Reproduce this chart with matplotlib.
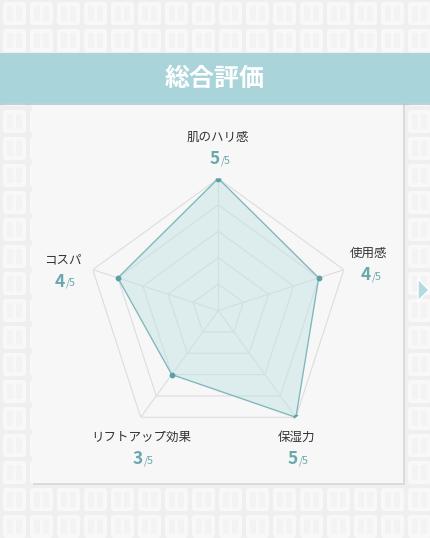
import numpy as np
import matplotlib
matplotlib.use("Agg")
import matplotlib.pyplot as plt
from matplotlib.patches import FancyBboxPatch, Rectangle, Polygon

plt.rcParams['font.family'] = ['Noto Sans CJK JP', 'DejaVu Sans']

# donnees
categories = ["肌のハリ感", "使用感", "保湿力", "リフトアップ効果", "コスパ"]
valeurs = [5, 4, 5, 3, 4]
note_max = 5
niveaux = [1, 2, 3, 4, 5]
titre = "総合評価"

W, H = 430, 538
fig = plt.figure(figsize=(W / 100, H / 100), dpi=100)
fig.patch.set_facecolor("#efefef")

# fond en pixels
fond = fig.add_axes([0, 0, 1, 1], zorder=0)
fond.set_xlim(0, W)
fond.set_ylim(H, 0)
fond.axis("off")

# carreaux du fond
for x0 in range(2, W, 27):
    for y0 in range(1, H, 27):
        fond.add_patch(FancyBboxPatch((x0 + 1, y0 + 1), 23, 23,
                                      boxstyle="round,pad=0,rounding_size=3",
                                      fc="#f8f8f8", ec="none"))
        fond.add_patch(Rectangle((x0 + 5, y0 + 5), 6, 15, fc="#f3f3f3", ec="none"))
        fond.add_patch(Rectangle((x0 + 14, y0 + 5), 6, 15, fc="#f3f3f3", ec="none"))

# carte
fond.add_patch(Rectangle((33, 104), 372, 381, fc="#dadada", ec="none"))
fond.add_patch(Rectangle((32, 100), 371, 383, fc="#f7f7f7", ec="none"))

# bandeau
fond.add_patch(Rectangle((0, 100), W, 5, fc="#8fbdc2", ec="none", alpha=0.6))
fond.add_patch(Rectangle((0, 53), W, 50, fc="#a9d5da", ec="none"))
fond.text(215, 79, titre, color="white", fontsize=18, fontweight="bold",
          ha="center", va="center")

# fleche a droite
fond.add_patch(Polygon([[418, 279], [418, 301], [429, 290]], closed=True,
                       fc="#b3dcdf", ec="white", lw=1))

# radar
cx, cy, R = 218.3, 310.5, 132
radar = fig.add_axes([(cx - R) / W, (H - cy - R) / H, 2 * R / W, 2 * R / H],
                     projection="polar", zorder=1)
radar.set_facecolor("none")
radar.set_theta_offset(np.pi / 2)
radar.set_theta_direction(-1)
radar.set_ylim(0, note_max)
radar.grid(False)
radar.spines["polar"].set_visible(False)
radar.set_xticks([])
radar.set_yticks([])

angles = np.linspace(0, 2 * np.pi, len(categories), endpoint=False)
ferme = np.concatenate([angles, angles[:1]])
for n in niveaux:
    radar.plot(ferme, [n] * len(ferme), color="#dddddd", lw=0.8, zorder=1)
for a in angles:
    radar.plot([a, a], [0, note_max], color="#dddddd", lw=0.8, zorder=1)

v = np.array(valeurs + valeurs[:1], dtype=float)
radar.fill(ferme, v, color="#c4e2e5", alpha=0.5, zorder=2)
radar.plot(ferme, v, color="#7fb6bb", lw=0.9, zorder=3)
radar.scatter(angles, valeurs, s=10, color="#5c9fa4", zorder=4)

# etiquettes
positions = [(218, 137), (369, 253), (296, 437), (141, 437), (63, 260)]
for (x, y), nom, val in zip(positions, categories, valeurs):
    fond.text(x, y, nom, fontsize=9, color="#333333", ha="center", va="center")
    fond.text(x + 2, y + 27, str(val), fontsize=12.5, fontweight="bold",
              color="#6aa8ad", ha="right", va="baseline", zorder=5)
    fond.text(x + 2.5, y + 26, "/" + str(note_max), fontsize=7.5, color="#6aa8ad",
              ha="left", va="baseline", zorder=5)

fig.savefig("out.png", dpi=100, facecolor=fig.get_facecolor())
